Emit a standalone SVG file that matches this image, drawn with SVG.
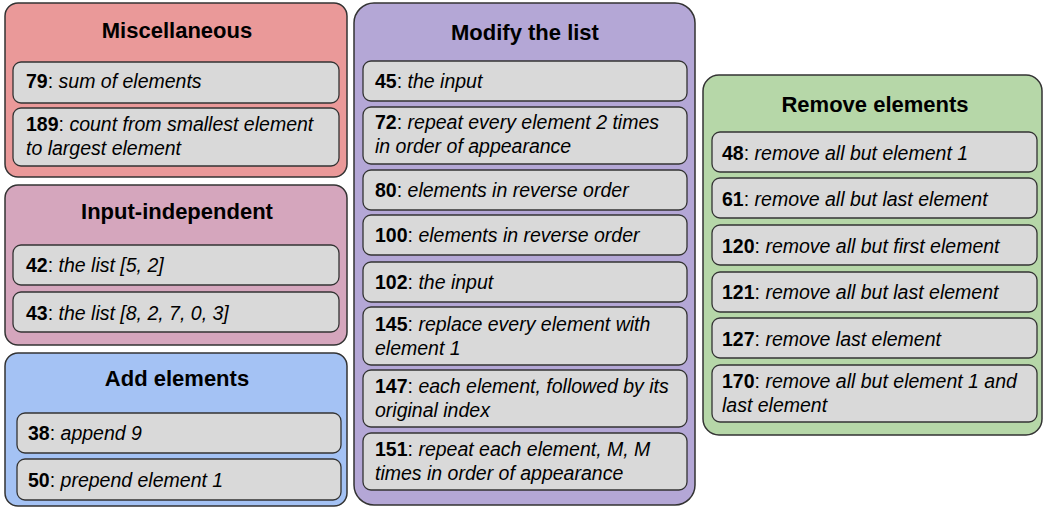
<svg xmlns="http://www.w3.org/2000/svg" width="1044" height="507" viewBox="0 0 1044 507">
<style>
.panel{stroke:#333333;stroke-width:1.5}
.item{fill:#d9d9d9;stroke:#333333;stroke-width:1.3}
.title{font-family:"Liberation Sans",Arial,sans-serif;font-weight:bold;font-size:22px;fill:#000;text-anchor:middle}
.t{font-family:"Liberation Sans",Arial,sans-serif;font-size:19.5px;fill:#000;font-style:italic}
.t tspan.n{font-weight:bold;font-style:normal}
.t tspan.c{font-style:normal}
</style>
<rect width="1044" height="507" fill="#ffffff"/>
<g id="miscellaneous">
<rect class="panel" x="5" y="3" width="342" height="174" rx="13" fill="#ea9999"/>
<text class="title" x="177" y="38">Miscellaneous</text>
<rect class="item" x="13" y="62" width="326" height="41" rx="8"/>
<text class="t" x="26" y="88"><tspan class="n">79</tspan><tspan class="c">: </tspan>sum of elements</text>
<rect class="item" x="13" y="108" width="326" height="58" rx="8"/>
<text class="t" x="26" y="131"><tspan class="n">189</tspan><tspan class="c">: </tspan>count from smallest element</text>
<text class="t" x="26" y="155">to largest element</text>
</g>
<g id="input-independent">
<rect class="panel" x="5" y="185" width="342" height="160" rx="13" fill="#d5a6bd"/>
<text class="title" x="177" y="219">Input-independent</text>
<rect class="item" x="13" y="245" width="326" height="40" rx="8"/>
<text class="t" x="26" y="272"><tspan class="n">42</tspan><tspan class="c">: </tspan>the list [5, 2]</text>
<rect class="item" x="13" y="292" width="326" height="40" rx="8"/>
<text class="t" x="26" y="320"><tspan class="n">43</tspan><tspan class="c">: </tspan>the list [8, 2, 7, 0, 3]</text>
</g>
<g id="add-elements">
<rect class="panel" x="5" y="353" width="342" height="153" rx="13" fill="#a4c2f4"/>
<text class="title" x="177" y="386">Add elements</text>
<rect class="item" x="17" y="413" width="324" height="40" rx="8"/>
<text class="t" x="28" y="440"><tspan class="n">38</tspan><tspan class="c">: </tspan>append 9</text>
<rect class="item" x="17" y="459" width="324" height="41" rx="8"/>
<text class="t" x="28" y="487"><tspan class="n">50</tspan><tspan class="c">: </tspan>prepend element 1</text>
</g>
<g id="modify-the-list">
<rect class="panel" x="354" y="3" width="341" height="502" rx="20" fill="#b4a7d6"/>
<text class="title" x="525" y="40">Modify the list</text>
<rect class="item" x="363" y="61" width="324" height="40" rx="8"/>
<text class="t" x="375" y="88"><tspan class="n">45</tspan><tspan class="c">: </tspan>the input</text>
<rect class="item" x="363" y="107" width="324" height="57" rx="8"/>
<text class="t" x="375" y="129"><tspan class="n">72</tspan><tspan class="c">: </tspan>repeat every element 2 times</text>
<text class="t" x="375" y="153">in order of appearance</text>
<rect class="item" x="363" y="170" width="324" height="40" rx="8"/>
<text class="t" x="375" y="197"><tspan class="n">80</tspan><tspan class="c">: </tspan>elements in reverse order</text>
<rect class="item" x="363" y="215" width="324" height="40" rx="8"/>
<text class="t" x="375" y="242"><tspan class="n">100</tspan><tspan class="c">: </tspan>elements in reverse order</text>
<rect class="item" x="363" y="262" width="324" height="40" rx="8"/>
<text class="t" x="375" y="289"><tspan class="n">102</tspan><tspan class="c">: </tspan>the input</text>
<rect class="item" x="363" y="307" width="324" height="58" rx="8"/>
<text class="t" x="375" y="331"><tspan class="n">145</tspan><tspan class="c">: </tspan>replace every element with</text>
<text class="t" x="375" y="355">element 1</text>
<rect class="item" x="363" y="370" width="324" height="57" rx="8"/>
<text class="t" x="375" y="393"><tspan class="n">147</tspan><tspan class="c">: </tspan>each element, followed by its</text>
<text class="t" x="375" y="417">original index</text>
<rect class="item" x="363" y="433" width="324" height="57" rx="8"/>
<text class="t" x="375" y="456"><tspan class="n">151</tspan><tspan class="c">: </tspan>repeat each element, M, M</text>
<text class="t" x="375" y="480">times in order of appearance</text>
</g>
<g id="remove-elements">
<rect class="panel" x="703" y="75" width="339" height="360" rx="16" fill="#b6d7a8"/>
<text class="title" x="875" y="112">Remove elements</text>
<rect class="item" x="712" y="132" width="325" height="40" rx="8"/>
<text class="t" x="722" y="160"><tspan class="n">48</tspan><tspan class="c">: </tspan>remove all but element 1</text>
<rect class="item" x="712" y="178" width="325" height="40" rx="8"/>
<text class="t" x="722" y="206"><tspan class="n">61</tspan><tspan class="c">: </tspan>remove all but last element</text>
<rect class="item" x="712" y="225" width="325" height="40" rx="8"/>
<text class="t" x="722" y="253"><tspan class="n">120</tspan><tspan class="c">: </tspan>remove all but first element</text>
<rect class="item" x="712" y="272" width="325" height="40" rx="8"/>
<text class="t" x="722" y="299"><tspan class="n">121</tspan><tspan class="c">: </tspan>remove all but last element</text>
<rect class="item" x="712" y="318" width="325" height="40" rx="8"/>
<text class="t" x="722" y="346"><tspan class="n">127</tspan><tspan class="c">: </tspan>remove last element</text>
<rect class="item" x="712" y="365" width="325" height="57" rx="8"/>
<text class="t" x="722" y="388"><tspan class="n">170</tspan><tspan class="c">: </tspan>remove all but element 1 and</text>
<text class="t" x="722" y="412">last element</text>
</g>
<g id="connectors"></g>
</svg>
